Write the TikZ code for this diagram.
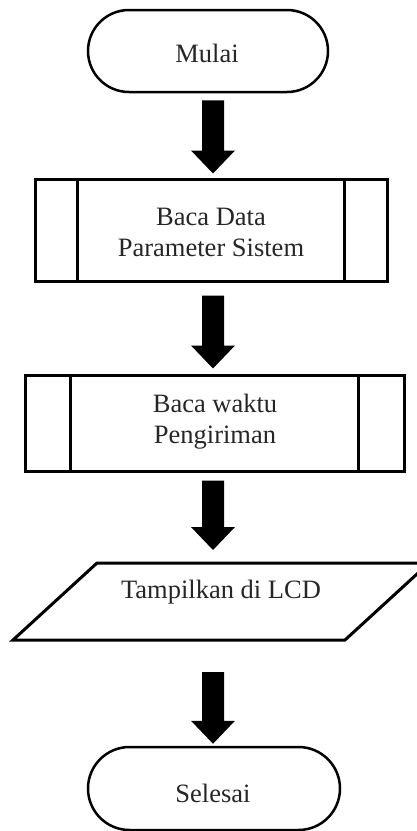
\documentclass[tikz,border=0pt]{standalone}
\usepackage{fontspec}
\setmainfont{Liberation Serif}
\usetikzlibrary{calc}
\begin{document}
\begin{tikzpicture}[x=1pt,y=-1pt,
  term/.style={draw, line width=2.5pt, rounded corners=41pt, minimum height=82pt, inner sep=0pt},
  proc/.style={draw, line width=3pt, rectangle, inner sep=0pt},
  sideline/.style={line width=3pt},
  iobox/.style={rectangle, minimum height=77pt, minimum width=332pt, inner sep=0pt, outer sep=0pt},
  ioline/.style={line width=3pt, line join=miter},
  txt/.style={font=\fontsize{26.5}{31}\selectfont, text=black!85, inner sep=0pt, anchor=base},
  blk/.style={fill=black}]
\useasboundingbox (0,0) rectangle (416,831);

% start
\node[term, minimum width=240pt] (m) at (208,51) {};
\node[txt] (mt) at (207,62) {Mulai};

% process 1
\node[proc, minimum width=352pt, minimum height=102pt] (b1) at (211,230) {};
\draw[sideline] ($(b1.north west)+(44,0)$) -- ($(b1.south west)+(44,0)$);
\draw[sideline] ($(b1.north east)+(-44,0)$) -- ($(b1.south east)+(-44,0)$);
\node[txt] (b1t1) at (211,225) {Baca Data};
\node[txt] (b1t2) at (211,256) {Parameter Sistem};

% process 2
\node[proc, minimum width=379pt, minimum height=96pt] (b2) at (214.5,423) {};
\draw[sideline] ($(b2.north west)+(47,0)$) -- ($(b2.south west)+(47,0)$);
\draw[sideline] ($(b2.north east)+(-47,0)$) -- ($(b2.south east)+(-47,0)$);
\node[txt] (b2t1) at (215,412) {Baca waktu};
\node[txt] (b2t2) at (215,443) {Pengiriman};

% output (parallelogram)
\node[iobox] (io) at (221,601.5) {};
\draw[ioline] ($(io.south west)+(-42,0)$) -- ($(io.north west)+(42,0)$)
  -- ($(io.north east)+(42,0)$) -- ($(io.south east)+(-42,0)$) -- cycle;
\node[txt] (iot) at (221,598) {Tampilkan di LCD};

% end
\node[term, minimum width=252pt, minimum height=83pt, rounded corners=41.5pt] (s) at (214,788.5) {};
\node[txt] (st) at (213,802) {Selesai};

% block arrows
\coordinate (ax) at (213,0);
\foreach \a/\b/\g/\h in {m/b1/7/4, b1/b2/13/5, b2/io/8/13, io/s/32/2}{
  \fill[blk] ($(\a.south -| ax)+(-11,\g)$) -- ($(\b.north -| ax)+(-11,-\h-23)$)
    -- ($(\b.north -| ax)+(-22,-\h-23)$) -- ($(\b.north -| ax)+(0,-\h)$)
    -- ($(\b.north -| ax)+(22,-\h-23)$) -- ($(\b.north -| ax)+(11,-\h-23)$)
    -- ($(\a.south -| ax)+(11,\g)$) -- cycle;
}
\end{tikzpicture}
\end{document}
